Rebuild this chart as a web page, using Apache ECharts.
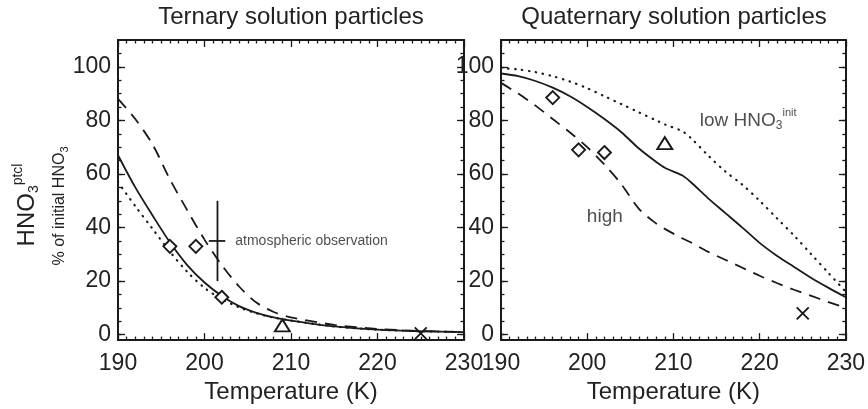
<!DOCTYPE html>
<html>
<head>
<meta charset="utf-8">
<script src="https://cdn.jsdelivr.net/npm/echarts@6/dist/echarts.min.js"></script>
<style>
  html, body { margin: 0; padding: 0; background: #fff; }
  #main { width: 868px; height: 409px; }
</style>
</head>
<body>
<div id="main"></div>
<script>
// 三元溶液 (左图)
const ternT = [190, 192, 194, 196, 198, 200, 202, 204, 206, 208, 210, 215, 220, 225, 230]
const ternSolid = [67, 55, 44.5, 34.5, 26, 19.5, 14.5, 10.7, 8.2, 6.5, 5.3, 3.1, 1.9, 1.3, 1.0]
const ternDashed = [88, 80.5, 71, 58, 46.5, 35.5, 26, 18, 12, 8.5, 6.5, 3.7, 2.2, 1.4, 1.0]
const ternDotted = [57, 48, 39.5, 31, 23.5, 17.5, 13.3, 10.2, 8, 6.4, 5.3, 3.1, 1.9, 1.3, 1.0]

// 四元溶液 (右图)
const quatT = [190, 192, 194, 196, 198, 200, 202, 204, 206, 208, 209, 211, 212, 214, 216, 218, 220, 222, 224, 226, 228, 230]
const quatSolid = [97.5, 96.5, 94.7, 92.2, 89, 85, 80.5, 75.5, 69.5, 64.5, 62.3, 59.5, 57, 51, 45.5, 40, 34.3, 29.5, 25.3, 21.2, 17.5, 14]
const quatDashed = [94, 90, 85.5, 80.5, 75.5, 70, 63.5, 56, 47, 41.5, 39.5, 36, 34.5, 31, 28, 25, 22, 19.3, 16.8, 14.5, 12.2, 10]
const quatDotted = [99.5, 99, 98, 96.5, 94.5, 92, 89, 86, 83, 80, 78.5, 76, 73.5, 67, 61, 56, 50, 43.5, 37, 30, 23, 16]

// 实验点
const ternDiamondT = [196, 199, 202]
const ternDiamondV = [33, 33, 14]
const ternTriangle = [209, 3.5]
const ternCross = [225, 0.5]
const quatDiamondT = [196, 199, 202]
const quatDiamondV = [88.5, 69, 68]
const quatTriangle = [209, 71.5]
const quatCross = [225, 8]

// 大气观测 (误差棒)
const obsT = 201.5
const obsMid = 35
const obsRange = [20, 50]
const obsSpan = [200.5, 202.4]

// 刻度
const yLabels = [0, 20, 40, 60, 80, 100]
const yMinor = [0, 5, 10, 15, 20, 25, 30, 35, 40, 45, 50, 55, 60, 65, 70, 75, 80, 85, 90, 95, 100, 105]
const titles = ['Ternary solution particles', 'Quaternary solution particles']

const FONT = 'Liberation Sans'
const INK = '#1a1a1a'
const TXT = '#222'

const line2 = { color: INK, width: 2 }
const tickLine = { color: INK, width: 1.3 }

const xAxisFor = function (grid, pos) {
  return {
    type: 'value',
    gridIndex: grid,
    position: pos,
    min: 190,
    max: 230,
    interval: 10,
    axisLine: { show: true, onZero: false, lineStyle: line2 },
    axisTick: { show: true, inside: true, length: 7, lineStyle: tickLine },
    minorTick: { show: true, splitNumber: 10, length: 3.5, lineStyle: tickLine },
    splitLine: { show: false },
    axisLabel: {
      show: pos === 'bottom', margin: 12, fontSize: 23, color: TXT, fontFamily: FONT,
      showMinLabel: true, showMaxLabel: true
    },
    name: pos === 'bottom' ? 'Temperature (K)' : '',
    nameLocation: 'middle',
    nameGap: 37,
    nameTextStyle: { fontSize: 24, color: TXT, fontFamily: FONT }
  }
}

const yAxisFor = function (grid, pos, ticks, len, withLabels) {
  return {
    type: 'value',
    gridIndex: grid,
    position: pos,
    min: -2,
    max: 110,
    axisLine: { show: true, onZero: false, lineStyle: line2 },
    axisTick: { show: true, inside: true, length: len, customValues: ticks, lineStyle: tickLine },
    axisLabel: {
      show: withLabels, customValues: yLabels, margin: 7,
      fontSize: 23, color: TXT, fontFamily: FONT
    },
    splitLine: { show: false }
  }
}

const dash = {
  solid: { type: 'solid', width: 1.8 },
  dashed: { type: [12, 8], width: 1.8 },
  dotted: { type: [0.5, 6.5], width: 2.2, cap: 'round' }
}

const curve = function (grid, temps, vals, kind) {
  return {
    type: 'line',
    xAxisIndex: grid * 2,
    yAxisIndex: grid * 4,
    data: temps.map((t, i) => [t, vals[i]]),
    smooth: 0.3,
    symbol: 'none',
    silent: true,
    lineStyle: Object.assign({ color: INK }, dash[kind])
  }
}

const marker = function (grid, points, symbol, size) {
  return {
    type: 'scatter',
    xAxisIndex: grid * 2,
    yAxisIndex: grid * 4,
    data: points,
    symbol: symbol,
    symbolSize: size,
    silent: true,
    z: 5,
    itemStyle: { color: '#fff', borderColor: INK, borderWidth: 1.9, opacity: 1 }
  }
}

const note = function (grid, point, text, rich) {
  return {
    type: 'scatter',
    xAxisIndex: grid * 2,
    yAxisIndex: grid * 4,
    data: [point],
    symbolSize: 1,
    silent: true,
    itemStyle: { color: 'transparent' },
    label: {
      show: true, position: 'right', distance: 0,
      formatter: text, rich: rich,
      fontFamily: FONT, color: TXT, fontSize: rich ? 19 : 14
    }
  }
}

const diamond = 'path://M0,-1L1,0L0,1L-1,0Z'
const cross = 'path://M0,0L1,1M1,0L0,1'

const grids = [
  { left: 118, top: 40, width: 346, height: 303 },
  { left: 501, top: 40, width: 346, height: 303 }
]

let xAxes = []
let yAxes = []
for (let g = 0; g < 2; g++) {
  xAxes.push(xAxisFor(g, 'bottom'), xAxisFor(g, 'top'))
  yAxes.push(
    yAxisFor(g, 'left', yLabels, 7, true),
    yAxisFor(g, 'left', yMinor, 3.5, false),
    yAxisFor(g, 'right', yLabels, 7, false),
    yAxisFor(g, 'right', yMinor, 3.5, false)
  )
}

const subRich = {
  a: { fontSize: 19, fontFamily: FONT, color: TXT },
  b: { fontSize: 12, fontFamily: FONT, color: TXT, padding: [11, 0, 0, 0] },
  c: { fontSize: 11, fontFamily: FONT, color: TXT, padding: [0, 0, 14, 0] }
}

const series = [
  curve(0, ternT, ternDotted, 'dotted'),
  curve(0, ternT, ternDashed, 'dashed'),
  curve(0, ternT, ternSolid, 'solid'),
  marker(0, ternDiamondT.map((t, i) => [t, ternDiamondV[i]]), diamond, 13),
  marker(0, [ternTriangle], 'triangle', [15, 12]),
  marker(0, [ternCross], cross, 12),
  {
    type: 'line', xAxisIndex: 0, yAxisIndex: 0, symbol: 'none', silent: true,
    data: [[obsT, obsRange[0]], [obsT, obsRange[1]]],
    lineStyle: { color: INK, width: 1.8 }
  },
  {
    type: 'line', xAxisIndex: 0, yAxisIndex: 0, symbol: 'none', silent: true,
    data: [[obsSpan[0], obsMid], [obsSpan[1], obsMid]],
    lineStyle: { color: INK, width: 1.8 }
  },
  note(0, [203.5, obsMid], 'atmospheric observation'),

  curve(1, quatT, quatDotted, 'dotted'),
  curve(1, quatT, quatDashed, 'dashed'),
  curve(1, quatT, quatSolid, 'solid'),
  marker(1, quatDiamondT.map((t, i) => [t, quatDiamondV[i]]), diamond, 13),
  marker(1, [quatTriangle], 'triangle', [15, 12]),
  marker(1, [quatCross], cross, 12),
  note(1, [213, 80], '{a|low HNO}{b|3}{c|init}', subRich),
  note(1, [199.9, 44], '{a|high}', subRich)
]

let myChart = echarts.init(document.getElementById('main'), null, { renderer: 'canvas' })
let option = {
  backgroundColor: '#fff',
  animation: false,
  title: titles.map((t, i) => ({
    text: t,
    left: i === 0 ? 291 : 674,
    top: 5,
    padding: 0,
    textAlign: 'center',
    textStyle: { fontSize: 24, fontWeight: 'normal', color: TXT, fontFamily: FONT }
  })),
  grid: grids,
  xAxis: xAxes,
  yAxis: yAxes,
  series: series,
  graphic: [
    {
      type: 'text',
      x: 27,
      y: 205,
      rotation: Math.PI / 2,
      style: {
        text: '{a|HNO}{b|3}{c|ptcl}',
        align: 'center',
        verticalAlign: 'middle',
        fill: TXT,
        rich: {
          a: { fontSize: 24, fontFamily: FONT, fill: TXT },
          b: { fontSize: 14, fontFamily: FONT, fill: TXT, padding: [14, 0, 0, 0] },
          c: { fontSize: 14, fontFamily: FONT, fill: TXT, padding: [0, 0, 17, 0] }
        }
      }
    },
    {
      type: 'text',
      x: 60,
      y: 206,
      rotation: Math.PI / 2,
      style: {
        text: '{a|% of initial HNO}{b|3}',
        align: 'center',
        verticalAlign: 'middle',
        fill: TXT,
        rich: {
          a: { fontSize: 16, fontFamily: FONT, fill: TXT },
          b: { fontSize: 11, fontFamily: FONT, fill: TXT, padding: [9, 0, 0, 0] }
        }
      }
    }
  ]
}
myChart.setOption(option)
</script>
</body>
</html>
